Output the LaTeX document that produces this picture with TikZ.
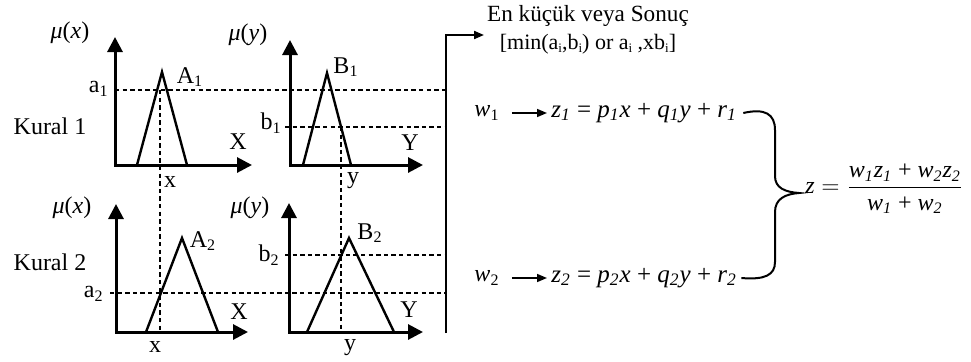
\documentclass[tikz,border=0pt]{standalone}
\usepackage{amsmath}
\usepackage{fontspec}
\setmainfont{Liberation Serif}
\usetikzlibrary{arrows.meta,positioning}

\newcommand{\iv}[2]{\textit{#1}\textsubscript{\textit{#2}}}
\newcommand{\uv}[2]{\textit{#1}\textsubscript{#2}}
\newcommand{\ti}{\raisebox{-0.25ex}{\fontsize{6.5}{7}\selectfont i}}

\tikzset{
  axes/.style={line width=1.5pt,{Triangle[length=7.5pt,width=7.5pt]}-{Triangle[length=7.5pt,width=7.5pt]}},
  memb/.style={line width=1.2pt},
  cut/.style={line width=0.7pt,dash pattern=on 2.2pt off 1.6pt},
  flow/.style={line width=0.8pt,-{Triangle[length=5pt,width=4pt]}},
  lbl/.style={inner sep=1pt},
  eqn/.style={inner sep=1pt,anchor=west,font=\fontsize{12.5}{14}\selectfont}
}

\begin{document}
\begin{tikzpicture}[x=0.5pt,y=-0.5pt,font=\fontsize{12}{14}\selectfont]
  \useasboundingbox (0,0) rectangle (971,361);

  \draw[cut] (115,90) -- (446,90);
  \draw[cut] (285,127) -- (446,127);
  \draw[cut] (110,293) -- (446,293);
  \draw[cut] (285,255) -- (446,255);
  \draw[cut] (160,90) -- (160,332);
  \draw[cut] (341,127) -- (341,332);

  \node (k1) at (50,126) {Kural 1};
  \node (mux1) at (70,33) {\textit{μ}(\textit{x})};
  \draw[axes] (115,37) |- (252,165);
  \draw[memb] (137,165) -- (162,72) -- (187,165);
  \node[lbl] (A1) at (190,77) {A\textsubscript{1}};
  \node[lbl] (X1) at (238,142) {X};
  \node[lbl,anchor=east] (a1) at (111,89) {a\textsubscript{1}};
  \node[lbl] (x1) at (170,182) {x};

  \node (muy1) at (248,35) {\textit{μ}(\textit{y})};
  \draw[axes] (290,40) |- (423,165);
  \draw[memb] (303,165) -- (327,73) -- (351,165);
  \node[lbl] (B1) at (346,67) {B\textsubscript{1}};
  \node[lbl] (Y1) at (410,143) {Y};
  \node[lbl,anchor=east] (b1) at (284,123) {b\textsubscript{1}};
  \node[lbl] (y1) at (353,181) {y};

  \node (k2) at (50,262) {Kural 2};
  \node (mux2) at (72,208) {\textit{μ}(\textit{x})};
  \draw[axes] (116,204) |- (248,332);
  \draw[memb] (146,332) -- (182,238) -- (218,332);
  \node[lbl] (A2) at (203,241) {A\textsubscript{2}};
  \node[lbl] (X2) at (239,312) {X};
  \node[lbl,anchor=east] (a2) at (106,294) {a\textsubscript{2}};
  \node[lbl] (x2) at (155,347) {x};

  \node (muy2) at (250,208) {\textit{μ}(\textit{y})};
  \draw[axes] (289,203) |- (423,332);
  \draw[memb] (307,332) -- (349,238) -- (394,332);
  \node[lbl] (B2) at (370,233) {B\textsubscript{2}};
  \node[lbl] (Y2) at (409,310) {Y};
  \node[lbl,anchor=east] (b2) at (282,255) {b\textsubscript{2}};
  \node[lbl] (y2) at (350,348) {y};

  \node[lbl,align=center] (res) at (588,30)
    {\fontsize{11.6}{14}\selectfont En küçük veya Sonuç\\
     \fontsize{11}{13}\selectfont {[}min(a\ti,b\ti) or a\ti{} ,xb\ti]};
  \coordinate (barbot) at (446,333);
  \coordinate (bartip) at (484,35);
  \draw[flow,line width=1pt] (barbot) |- (bartip);

  \node[lbl] (w1) at (487,113) {\uv{w}{1}};
  \node[eqn] (z1) at (549,113)
    {\iv{z}{1} = \iv{p}{1}\textit{x} + \iv{q}{1}\textit{y} + \iv{r}{1}};
  \node[lbl] (w2) at (487,278) {\uv{w}{2}};
  \node[eqn] (z2) at (549,278)
    {\iv{z}{2} = \iv{p}{2}\textit{x} + \iv{q}{2}\textit{y} + \iv{r}{2}};
  \draw[flow] ([xshift=5pt]w1.east) -- ([xshift=-1pt]z1.west);
  \draw[flow] ([xshift=5pt]w2.east) -- ([xshift=-1pt]z2.west);

  \node[lbl,anchor=west] (z) at (803,189)
    {$\mbox{\textit{z}} = \dfrac{\mbox{\iv{w}{1}\iv{z}{1} + \iv{w}{2}\iv{z}{2}}}{\mbox{\iv{w}{1} + \iv{w}{2}}}$};
  \coordinate (tip) at (799,193);
  \draw[line width=1pt] ([xshift=2pt]z1.east) .. controls (765,108) and (775,114) .. (775,130)
    -- (775,176) .. controls (775,188) and (785,192) .. (tip)
    .. controls (785,194) and (775,199) .. (775,212)
    -- (775,262) .. controls (775,275) and (765,280) .. ([xshift=1pt]z2.east);
\end{tikzpicture}
\end{document}
